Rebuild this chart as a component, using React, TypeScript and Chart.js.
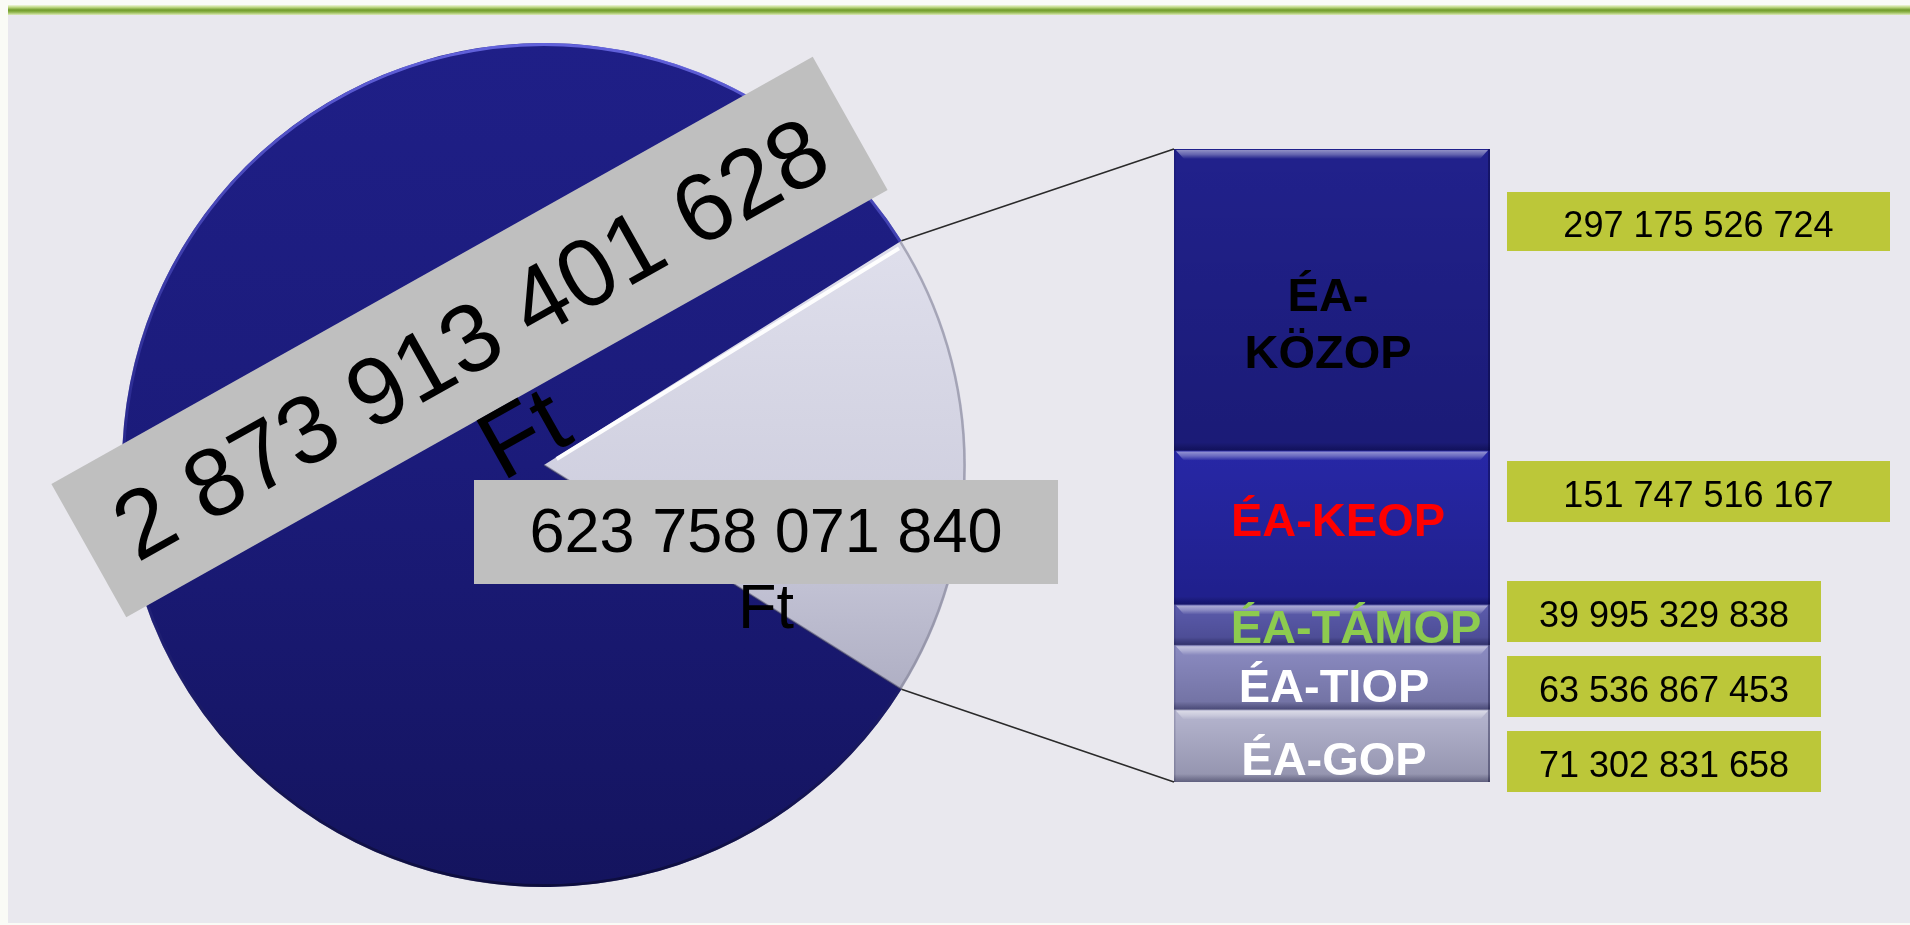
import React, { useEffect, useRef } from "react";
import { Chart, registerables } from "chart.js";

Chart.register(...registerables);

// ---------- data ----------
const pieCategories = ["ÉA operatív programok", "Egyéb"];
const pieValues = [623758071840, 2873913401628];
const unitLabel = "Ft";

const barCategories = ["ÉA-KÖZOP", "ÉA-KEOP", "ÉA-TÁMOP", "ÉA-TIOP", "ÉA-GOP"];
const barValues = [297175526724, 151747516167, 39995329838, 63536867453, 71302831658];

// ---------- styles ----------
const barColors = ["#21218C", "#2727A6", "#5C5CAD", "#8C8CC2", "#B6B6D0"];
const barLabelColors = ["#000000", "#FF0000", "#8DCB4F", "#FFFFFF", "#FFFFFF"];
const barLabelLines = [["ÉA-", "KÖZOP"], ["ÉA-KEOP"], ["ÉA-TÁMOP"], ["ÉA-TIOP"], ["ÉA-GOP"]];
// label caps-center offsets relative to each segment centre
const barLabelDx = [-4, 6, 24, 2, 2];
const barLabelDy = [-5, -8, 1, 8, 12];
// green value boxes [left, top, width, height]
const valueBoxes = [
  [1507, 192, 383, 59],
  [1507, 461, 383, 61],
  [1507, 581, 314, 61],
  [1507, 656, 314, 61],
  [1507, 731, 314, 61],
];

const W = 1910;
const H = 925;
const FONT = '"Liberation Sans", Arial, sans-serif';

const fmt = (v: number) => String(v).replace(/\B(?=(\d{3})+(?!\d))/g, " ");

function drawTextBox(
  ctx: CanvasRenderingContext2D,
  cx: number,
  cy: number,
  angleDeg: number,
  bw: number,
  bh: number,
  lines: string[],
  size: number,
  firstDy: number,
  gap: number
) {
  ctx.save();
  ctx.translate(cx, cy);
  ctx.rotate((angleDeg * Math.PI) / 180);
  ctx.fillStyle = "#BFBFBF";
  ctx.fillRect(-bw / 2, -bh / 2, bw, bh);
  ctx.fillStyle = "#000000";
  ctx.font = `${size}px ${FONT}`;
  ctx.textAlign = "center";
  ctx.textBaseline = "alphabetic";
  lines.forEach((l, i) => {
    ctx.fillText(l, 0, firstDy + i * gap + 0.358 * size);
  });
  ctx.restore();
}

export default function App() {
  const pieRef = useRef<HTMLCanvasElement | null>(null);
  const barRef = useRef<HTMLCanvasElement | null>(null);

  useEffect(() => {
    if (!pieRef.current || !barRef.current) return;
    const pieTotal = pieValues.reduce((a, b) => a + b, 0);
    const barTotal = barValues.reduce((a, b) => a + b, 0);
    const half = (pieValues[0] / pieTotal) * 180;

    const pieDecor = {
      id: "pieDecor",
      afterDatasetsDraw(chart: any) {
        const ctx: CanvasRenderingContext2D = chart.ctx;
        const meta = chart.getDatasetMeta(0);
        const arcs = meta.data.map((a: any) =>
          a.getProps(["x", "y", "startAngle", "endAngle", "outerRadius"], true)
        );
        const { x, y, outerRadius: r } = arcs[0];
        // rim of big slice
        const big = arcs[1];
        ctx.save();
        const rg = ctx.createLinearGradient(0, y - r, 0, y + r);
        rg.addColorStop(0, "rgba(110,110,235,0.85)");
        rg.addColorStop(0.5, "rgba(60,60,170,0.35)");
        rg.addColorStop(1, "rgba(8,8,40,0.6)");
        ctx.strokeStyle = rg;
        ctx.lineWidth = 3;
        ctx.beginPath();
        ctx.arc(x, y, r - 1.5, big.startAngle, big.endAngle);
        ctx.stroke();
        // light slice: white highlight on upper radial edge, grey rim on arc
        const sm = arcs[0];
        ctx.strokeStyle = "rgba(255,255,255,0.95)";
        ctx.lineWidth = 4;
        ctx.beginPath();
        ctx.moveTo(x + 14 * Math.cos(sm.startAngle + 0.12), y + 14 * Math.sin(sm.startAngle + 0.12));
        ctx.lineTo(
          x + (r - 6) * Math.cos(sm.startAngle + 0.012),
          y + (r - 6) * Math.sin(sm.startAngle + 0.012)
        );
        ctx.stroke();
        ctx.strokeStyle = "rgba(130,130,150,0.6)";
        ctx.lineWidth = 2.5;
        ctx.beginPath();
        ctx.arc(x, y, r - 1.5, sm.startAngle, sm.endAngle);
        ctx.stroke();
        ctx.strokeStyle = "rgba(60,60,90,0.5)";
        ctx.lineWidth = 2;
        ctx.beginPath();
        ctx.moveTo(x, y);
        ctx.lineTo(x + r * Math.cos(sm.endAngle), y + r * Math.sin(sm.endAngle));
        ctx.stroke();
        ctx.restore();

        // labels
        drawTextBox(ctx, x - 74.5, y - 128, -29.3, 873, 153, [fmt(pieValues[1]), unitLabel], 96, 0, 108);
        drawTextBox(ctx, x + 222, y + 67, 0, 584, 104, [fmt(pieValues[0]), unitLabel], 63, -3, 76);
      },
    };

    const pieChart = new Chart(pieRef.current, {
      type: "pie",
      data: {
        labels: pieCategories,
        datasets: [
          {
            data: pieValues,
            borderWidth: 0,
            hoverOffset: 0,
            offset: 0,
            backgroundColor: (c: any) => {
              const chart = c.chart;
              const a = chart.chartArea;
              const light = c.dataIndex === 0;
              if (!a) return light ? "#D0D0E0" : "#1C1C7A";
              const g = chart.ctx.createLinearGradient(0, a.top, 0, a.bottom);
              if (light) {
                g.addColorStop(0, "#E6E6F0");
                g.addColorStop(0.25, "#DEDEEB");
                g.addColorStop(0.55, "#CFCFDF");
                g.addColorStop(0.78, "#ADADC2");
                g.addColorStop(1, "#9C9CB2");
              } else {
                g.addColorStop(0, "#1F1F87");
                g.addColorStop(0.5, "#1B1B7A");
                g.addColorStop(1, "#14145E");
              }
              return g;
            },
          } as any,
        ],
      },
      options: {
        animation: false,
        responsive: false,
        events: [],
        rotation: 90 - half,
        layout: { padding: { left: 122, top: 43, right: W - 966, bottom: H - 887 } },
        plugins: { legend: { display: false }, tooltip: { enabled: false } },
      } as any,
      plugins: [pieDecor],
    });

    const order = barValues.map((_, i) => barValues.length - 1 - i); // bottom-first stacking

    const barDecor = {
      id: "barDecor",
      afterDatasetsDraw(chart: any) {
        const ctx: CanvasRenderingContext2D = chart.ctx;
        const rects: any[] = [];
        chart.data.datasets.forEach((ds: any, di: number) => {
          const el = chart.getDatasetMeta(di).data[0];
          const p = el.getProps(["x", "y", "base", "width"], true);
          const L = p.x - p.width / 2;
          const R = p.x + p.width / 2;
          const T = Math.min(p.y, p.base);
          const B = Math.max(p.y, p.base);
          rects[ds.srcIndex] = { L, R, T, B };
        });
        ctx.save();
        rects.forEach(({ L, R, T, B }) => {
          const g = ctx.createLinearGradient(0, T, 0, B);
          g.addColorStop(0, "rgba(0,0,30,0)");
          g.addColorStop(1, "rgba(0,0,30,0.2)");
          ctx.fillStyle = g;
          ctx.fillRect(L, T, R - L, B - T);
          // bottom dark band
          const gb = ctx.createLinearGradient(0, B - 8, 0, B);
          gb.addColorStop(0, "rgba(0,0,30,0)");
          gb.addColorStop(1, "rgba(0,0,40,0.35)");
          ctx.fillStyle = gb;
          ctx.fillRect(L, B - 8, R - L, 8);
          // top bevel highlight
          const gt = ctx.createLinearGradient(0, T + 1, 0, T + 10);
          gt.addColorStop(0, "rgba(255,255,255,0.5)");
          gt.addColorStop(0.5, "rgba(255,255,255,0.3)");
          gt.addColorStop(1, "rgba(255,255,255,0)");
          ctx.fillStyle = gt;
          ctx.beginPath();
          ctx.moveTo(L + 2, T + 1);
          ctx.lineTo(R - 2, T + 1);
          ctx.lineTo(R - 10, T + 10);
          ctx.lineTo(L + 10, T + 10);
          ctx.closePath();
          ctx.fill();
          // side edges
          ctx.fillStyle = "rgba(0,0,40,0.35)";
          ctx.fillRect(R - 2, T, 2, B - T);
          ctx.fillStyle = "rgba(0,0,40,0.15)";
          ctx.fillRect(L, T, 1.5, B - T);
        });
        // labels
        rects.forEach(({ L, R, T, B }, i) => {
          const size = 47;
          ctx.font = `bold ${size}px ${FONT}`;
          ctx.fillStyle = barLabelColors[i];
          ctx.textAlign = "center";
          ctx.textBaseline = "alphabetic";
          const lines = barLabelLines[i];
          const gap = 57;
          const cx = (L + R) / 2 + barLabelDx[i];
          const cy = (T + B) / 2 + barLabelDy[i] - ((lines.length - 1) * gap) / 2 + (lines.length > 1 ? 28 : 0);
          lines.forEach((l, k) => ctx.fillText(l, cx, cy + k * gap + 0.358 * size));
        });
        // value boxes
        valueBoxes.forEach(([bx, by, bw, bh], i) => {
          ctx.fillStyle = "#BCC739";
          ctx.fillRect(bx, by, bw, bh);
          ctx.fillStyle = "#000000";
          ctx.font = `36px ${FONT}`;
          ctx.textAlign = "center";
          ctx.fillText(fmt(barValues[i]), bx + bw / 2, by + bh / 2 + 3 + 0.358 * 36);
        });
        // connector lines from the pie slice to the bar
        const arc = pieChart.getDatasetMeta(0).data[0].getProps(
          ["x", "y", "startAngle", "endAngle", "outerRadius"],
          true
        ) as any;
        const top = Math.min(...rects.map((r: any) => r.T));
        const bottom = Math.max(...rects.map((r: any) => r.B));
        const left = Math.min(...rects.map((r: any) => r.L));
        ctx.strokeStyle = "#2A2A2A";
        ctx.lineWidth = 1.6;
        ctx.beginPath();
        ctx.moveTo(arc.x + arc.outerRadius * Math.cos(arc.startAngle), arc.y + arc.outerRadius * Math.sin(arc.startAngle));
        ctx.lineTo(left, top);
        ctx.moveTo(arc.x + arc.outerRadius * Math.cos(arc.endAngle), arc.y + arc.outerRadius * Math.sin(arc.endAngle));
        ctx.lineTo(left, bottom);
        ctx.stroke();
        ctx.restore();
      },
    };

    const barChart = new Chart(barRef.current, {
      type: "bar",
      data: {
        labels: ["ÉA"],
        datasets: order.map((i) => ({
          label: barCategories[i],
          data: [barValues[i]],
          backgroundColor: barColors[i],
          borderWidth: 0,
          barPercentage: 1,
          categoryPercentage: 1,
          stack: "s",
          srcIndex: i,
        })) as any,
      },
      options: {
        animation: false,
        responsive: false,
        events: [],
        layout: { padding: { left: 1174, right: W - 1490, top: 149, bottom: H - 782 } },
        scales: {
          x: { display: false, stacked: true },
          y: { display: false, stacked: true, min: 0, max: barTotal },
        },
        plugins: { legend: { display: false }, tooltip: { enabled: false } },
      } as any,
      plugins: [barDecor],
    });

    return () => {
      barChart.destroy();
      pieChart.destroy();
    };
  }, []);

  return (
    <div
      style={{
        position: "absolute",
        left: 0,
        top: 0,
        width: W,
        height: H,
        overflow: "hidden",
        background: "#FAFBF6",
      }}
    >
      <div
        style={{
          position: "absolute",
          left: 8,
          top: 14,
          width: W - 8,
          height: 909,
          background: "#E9E8EE",
        }}
      />
      <div
        style={{
          position: "absolute",
          left: 8,
          top: 5,
          width: W - 8,
          height: 10,
          background:
            "linear-gradient(to bottom, #F1F7DC 0%, #B8D47A 25%, #6F9A2A 50%, #8DB348 70%, #DDEBB8 100%)",
        }}
      />
      <canvas ref={pieRef} width={W} height={H} style={{ position: "absolute", left: 0, top: 0 }} />
      <canvas ref={barRef} width={W} height={H} style={{ position: "absolute", left: 0, top: 0 }} />
    </div>
  );
}
